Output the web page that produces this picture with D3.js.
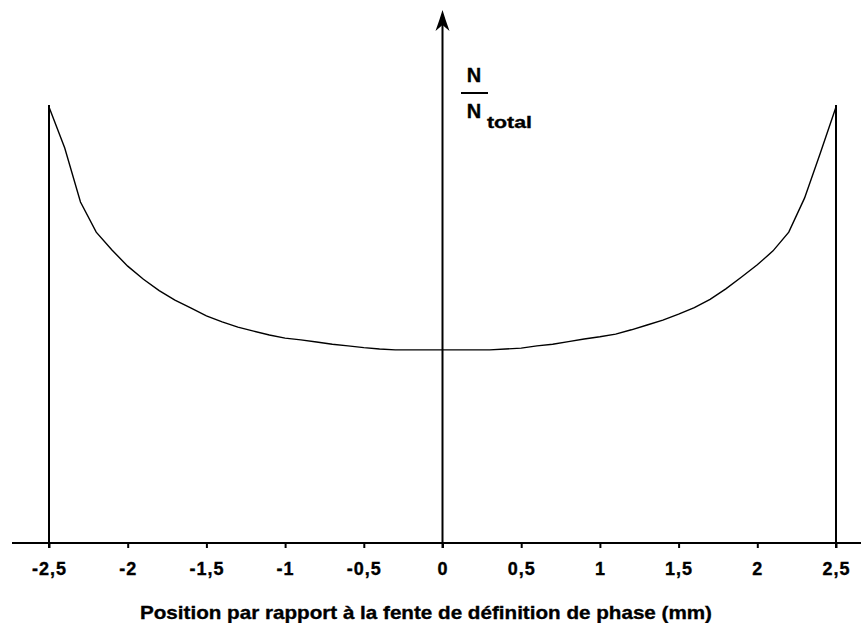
<!DOCTYPE html>
<html>
<head>
<meta charset="utf-8">
<script src="https://cdn.jsdelivr.net/npm/d3@7"></script>
<style>
  html, body { margin: 0; padding: 0; background: #fff; }
  svg { display: block; }
  text { font-family: "Liberation Sans", Arial, sans-serif; font-weight: bold; fill: #000; stroke: #000; stroke-width: 0.35px; }
</style>
</head>
<body>
<svg id="chart" width="861" height="623"></svg>
<script>
// Position (mm) relative to the phase-definition slit
const positions = [-2.5,-2.4,-2.3,-2.2,-2.1,-2.0,-1.9,-1.8,-1.7,-1.6,-1.5,-1.4,-1.3,-1.2,-1.1,-1.0,-0.9,-0.8,-0.7,-0.6,-0.5,-0.4,-0.3,-0.2,-0.1,0,
  0.1,0.2,0.3,0.4,0.5,0.6,0.7,0.8,0.9,1.0,1.1,1.2,1.3,1.4,1.5,1.6,1.7,1.8,1.9,2.0,2.1,2.2,2.3,2.4,2.5];
// N / N_total (relative units, edge value = 100)
const ratio = [100,90.6,78.2,71.3,67.2,63.5,60.5,57.9,55.7,53.9,52.1,50.7,49.5,48.6,47.7,47.0,46.6,46.1,45.6,45.2,44.8,44.5,44.3,44.3,44.3,44.3,
  44.3,44.3,44.3,44.5,44.7,45.2,45.6,46.2,46.8,47.3,47.9,48.9,50.0,51.1,52.5,54.0,55.9,58.3,61.0,63.8,67.0,71.3,79.1,89.4,100];
const tickValues = [-2.5,-2,-1.5,-1,-0.5,0,0.5,1,1.5,2,2.5];
const tickLabels = ["-2,5","-2","-1,5","-1","-0,5","0","0,5","1","1,5","2","2,5"];
const xTitle = "Position par rapport à la fente de définition de phase (mm)";

const svg = d3.select("#chart");
const axisY = 543;
const x = d3.scaleLinear().domain([-2.5, 2.5]).range([49, 836]);
const y = d3.scaleLinear().domain([0, 100]).range([axisY, 107]);

// x axis
const xAxis = d3.axisBottom(x)
  .tickValues(tickValues)
  .tickFormat((d, i) => tickLabels[i])
  .tickSize(5)
  .tickSizeOuter(0);
const gx = svg.append("g").attr("transform", `translate(0,${axisY})`).call(xAxis);
gx.select(".domain").remove();
gx.selectAll(".tick line").attr("stroke", "#000").attr("stroke-width", 2);
gx.selectAll(".tick text")
  .attr("y", 32).attr("dy", 0)
  .style("font-size", "18px")
  .style("letter-spacing", "1px")
  .style("font-family", "'Liberation Sans', Arial, sans-serif")
  .style("font-weight", "bold")
  .attr("fill", "#000");

svg.append("line")
  .attr("x1", 12).attr("x2", 861)
  .attr("y1", axisY).attr("y2", axisY)
  .attr("stroke", "#000").attr("stroke-width", 2);

// vertical axis with arrow
const x0 = x(0);
svg.append("line")
  .attr("x1", x0).attr("x2", x0)
  .attr("y1", 22).attr("y2", axisY + 5)
  .attr("stroke", "#000").attr("stroke-width", 2);
svg.append("path")
  .attr("d", `M${x0},10 Q${x0 + 3},20 ${x0 + 7},31 L${x0},25 L${x0 - 7},31 Q${x0 - 3},20 ${x0},10 Z`)
  .attr("fill", "#000");

// bounding vertical lines at ±2.5
[positions[0], positions[positions.length - 1]].forEach((p, i) => {
  const v = i === 0 ? ratio[0] : ratio[ratio.length - 1];
  svg.append("line")
    .attr("x1", x(p)).attr("x2", x(p))
    .attr("y1", y(v) - 2).attr("y2", axisY + 5)
    .attr("stroke", "#000").attr("stroke-width", 2);
});

// curve
const data = positions.map((p, i) => ({ p, v: ratio[i] }));
svg.append("path")
  .datum(data)
  .attr("fill", "none")
  .attr("stroke", "#000")
  .attr("stroke-width", 1.4)
  .attr("d", d3.line().x(d => x(d.p)).y(d => y(d.v)));

// y label N / N_total
svg.append("text").attr("x", 474).attr("y", 82).attr("text-anchor", "middle")
  .style("font-size", "20px").text("N");
svg.append("line").attr("x1", 461).attr("x2", 488).attr("y1", 93).attr("y2", 93)
  .attr("stroke", "#000").attr("stroke-width", 2);
svg.append("text").attr("x", 474).attr("y", 118).attr("text-anchor", "middle")
  .style("font-size", "20px").text("N");
svg.append("text").attr("x", 487).attr("y", 128)
  .style("font-size", "17px").attr("textLength", 45).attr("lengthAdjust", "spacingAndGlyphs").text("total");

// x title
svg.append("text").attr("x", 426).attr("y", 619).attr("text-anchor", "middle")
  .style("font-size", "19px")
  .attr("textLength", 572).attr("lengthAdjust", "spacingAndGlyphs")
  .text(xTitle);
</script>
</body>
</html>
